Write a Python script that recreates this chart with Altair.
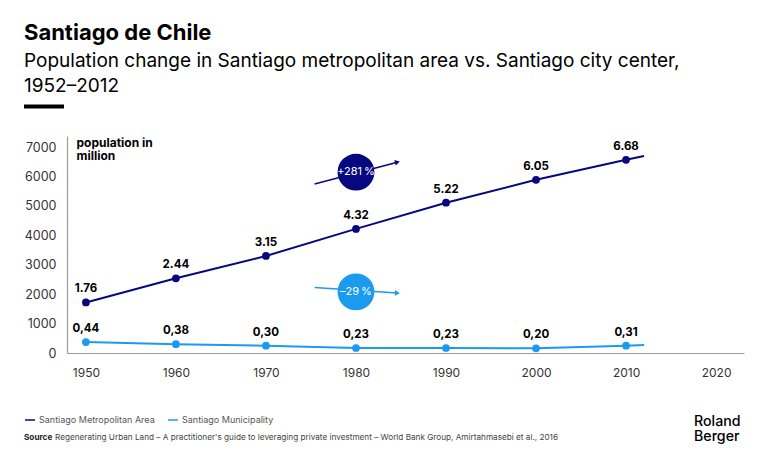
import altair as alt
import pandas as pd

FONT = "Inter"

# ---- data ----
years = [1950, 1960, 1970, 1980, 1990, 2000, 2010]
metro_values = [1720, 2540, 3300, 4220, 5110, 5890, 6570]
metro_labels = ["1.76", "2.44", "3.15", "4.32", "5.22", "6.05", "6.68"]
muni_values = [370, 300, 250, 170, 170, 160, 250]
muni_labels = ["0,44", "0,38", "0,30", "0,23", "0,23", "0,20", "0,31"]
end_year = 2012
metro_end = 6700
muni_end = 270

series = ["Santiago Metropolitan Area", "Santiago Municipality"]
colors = ["#07077F", "#1A9BF0"]

badge_labels = ["+281\u202f%", "–29\u202f%"]
badge_year = [1980, 1980]
badge_value = [6150, 2080]
arrow_year_start = [1975.4, 1975.4]
arrow_year_end = [1984.6, 1984.6]
arrow_value_start = [5750, 2230]
arrow_value_end = [6490, 2040]
arrow_angle = [345, 4]

x_ticks = [1950, 1960, 1970, 1980, 1990, 2000, 2010, 2020]
y_ticks = [0, 1000, 2000, 3000, 4000, 5000, 6000, 7000]

# ---- tables ----
line_rows = []
for y, v in zip(years + [end_year], metro_values + [metro_end]):
    line_rows.append({"year": y, "value": v, "series": series[0]})
for y, v in zip(years + [end_year], muni_values + [muni_end]):
    line_rows.append({"year": y, "value": v, "series": series[1]})
lines_df = pd.DataFrame(line_rows)

pt_rows = []
for y, v, l in zip(years, metro_values, metro_labels):
    pt_rows.append({"year": y, "value": v, "label": l, "series": series[0]})
for y, v, l in zip(years, muni_values, muni_labels):
    pt_rows.append({"year": y, "value": v, "label": l, "series": series[1]})
pts_df = pd.DataFrame(pt_rows)

ann_df = pd.DataFrame({
    "label": badge_labels, "year": badge_year, "value": badge_value,
    "x0": arrow_year_start, "x1": arrow_year_end,
    "y0": arrow_value_start, "y1": arrow_value_end,
    "angle": arrow_angle, "color": colors,
})
one = pd.DataFrame({"a": [0]})

xscale = alt.Scale(domain=[1947.9, 2023.1], nice=False, zero=False)
yscale = alt.Scale(domain=[0, 7380], nice=False)
cscale = alt.Scale(domain=series, range=colors)

xaxis = alt.Axis(values=x_ticks, format="d", ticks=False, grid=False, title=None,
                 labelPadding=14, labelFontSize=12, labelColor="#333", labelFont=FONT,
                 labelOverlap=False,
                 domainColor="#9a9a9a", domainWidth=1.2)
yaxis = alt.Axis(values=y_ticks, format="d", ticks=False, grid=False,
                 title=["population in", "million"], titleAngle=0, titleAlign="left",
                 titleBaseline="top", titleX=9, titleY=1, titleFontSize=12,
                 titleFontWeight="bold", titleColor="black", titleFont=FONT,
                 titleLineHeight=13.5, labelOverlap=False,
                 labelPadding=11, labelFontSize=12.5, labelColor="#333", labelFont=FONT,
                 domainColor="#9a9a9a", domainWidth=1.2)


def X(field):
    return alt.X(f"{field}:Q", scale=xscale, axis=xaxis)


def Y(field):
    return alt.Y(f"{field}:Q", scale=yscale, axis=yaxis)


lines = alt.Chart(lines_df).mark_line(strokeWidth=2).encode(
    x=X("year"), y=Y("value"),
    color=alt.Color("series:N", scale=cscale, sort=series,
                    legend=alt.Legend(title=None, orient="none", direction="horizontal",
                                      legendX=-43, legendY=278, symbolType="stroke",
                                      symbolSize=100, symbolStrokeWidth=1.5,
                                      labelFontSize=9, labelColor="#555", labelFont=FONT,
                                      labelOffset=3, columnPadding=10)),
)
points = alt.Chart(pts_df).mark_circle(size=60, opacity=1).encode(
    x=X("year"), y=Y("value"),
    color=alt.Color("series:N", scale=cscale, sort=series),
)
labels = alt.Chart(pts_df).mark_text(dy=-13, fontSize=11.5, fontWeight="bold",
                                     color="black", font=FONT).encode(
    x=X("year"), y=Y("value"), text="label:N")

arrows = alt.Chart(ann_df).mark_rule(strokeWidth=1.5).encode(
    x=X("x0"), x2="x1:Q", y=Y("y0"), y2="y1:Q",
    color=alt.Color("color:N", scale=None))
heads = alt.Chart(ann_df).mark_point(shape="triangle-right", filled=True, size=32,
                                     opacity=1).encode(
    x=X("x1"), y=Y("y1"), angle=alt.Angle("angle:Q", scale=None),
    color=alt.Color("color:N", scale=None))
badges = alt.Chart(ann_df).mark_circle(size=1360, opacity=1).encode(
    x=X("year"), y=Y("value"), color=alt.Color("color:N", scale=None))
badge_text = alt.Chart(ann_df).mark_text(fontSize=11, color="white", font=FONT).encode(
    x=X("year"), y=Y("value"), text="label:N")

bar = alt.Chart(one).mark_rule(strokeWidth=4, color="black").encode(
    x=alt.value(-43), x2=alt.value(-3), y=alt.value(-29.5))

source_bold = alt.Chart(one).mark_text(align="left", baseline="middle", fontSize=8.2,
                                       fontWeight="bold", color="#222", font=FONT).encode(
    x=alt.value(-43), y=alt.value(302), text=alt.value("Source"))
source_rest = alt.Chart(one).mark_text(align="left", baseline="middle", fontSize=8.2,
                                       color="#444", font=FONT).encode(
    x=alt.value(-12), y=alt.value(302),
    text=alt.value("Regenerating Urban Land – A practitioner's guide to leveraging private investment – World Bank Group, Amirtahmasebi et al., 2016"))
logo1 = alt.Chart(one).mark_text(align="left", baseline="alphabetic", fontSize=14.2,
                                 fontWeight=500, color="black", font=FONT).encode(
    x=alt.value(627), y=alt.value(290), text=alt.value("Roland"))
logo2 = alt.Chart(one).mark_text(align="left", baseline="alphabetic", fontSize=14.2,
                                 fontWeight=500, color="black", font=FONT).encode(
    x=alt.value(627), y=alt.value(304.5), text=alt.value("Berger"))

chart = alt.layer(
    arrows, heads, badges, badge_text, lines, points, labels,
    bar, source_bold, source_rest, logo1, logo2
).properties(
    width=677, height=217,
    autosize="none",
    padding={"left": 59, "top": 128, "right": 16, "bottom": 103},
    title=alt.TitleParams(
        text="Santiago de Chile",
        subtitle=["Population change in Santiago metropolitan area vs. Santiago city center,",
                  "1952–2012"],
        anchor="start", frame="group", dx=-43, offset=8,
        font=FONT, fontSize=22, fontWeight="bold", color="black",
        subtitleFont=FONT, subtitleFontSize=19, subtitleColor="black",
        subtitleLineHeight=25, subtitlePadding=7,
    ),
    background="white",
).configure_view(stroke=None)

chart.save("out.html", embed_options={"renderer": "svg", "actions": False})
